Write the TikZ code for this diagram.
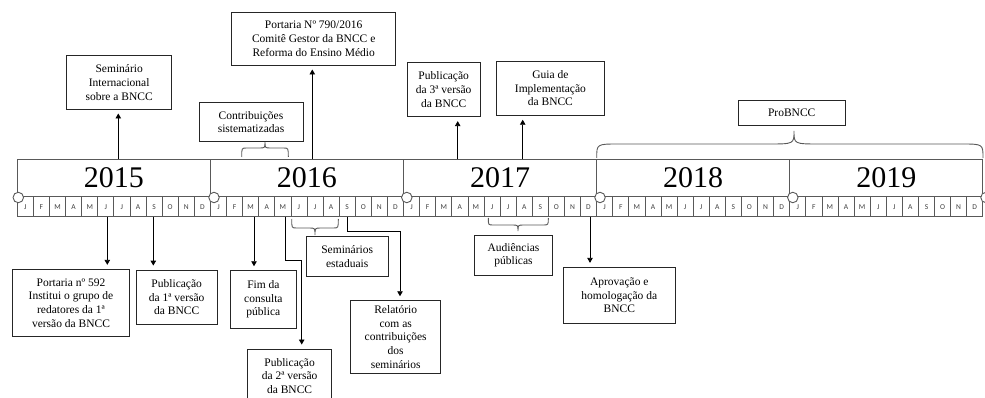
\documentclass[tikz,border=0pt]{standalone}
\usepackage{fontspec}
\setmainfont{Liberation Serif}
\newfontfamily\monthfont{Carlito}
\usetikzlibrary{arrows.meta}
\newcommand\drawbrace[8]{%
  \draw[bracestyle] (#1,#4) .. controls (#1,#5) .. ({#1+#7},#5) -- ({#3-#8},#5)
    .. controls (#3,#5) .. (#3,#6) .. controls (#3,#5) .. ({#3+#8},#5)
    -- ({#2-#7},#5) .. controls (#2,#5) .. (#2,#4);}
\begin{document}
\begin{tikzpicture}[x=1pt,y=-1pt,
  box/.style={draw=black!85, line width=0.9pt, inner sep=0pt, align=center,
    font=\fontsize{11.5}{13.7}\selectfont, fill=white},
  yearbox/.style={draw=black!65, line width=0.9pt, inner sep=0pt,
    minimum width=193.1pt, minimum height=37.4pt, font=\fontsize{30}{30}\selectfont},
  monthcell/.style={draw=black!65, line width=0.7pt, inner sep=0pt,
    minimum width=16.09pt, minimum height=20pt,
    font=\monthfont\fontsize{7.5}{8}\selectfont, text=black!75},
  arr/.style={line width=0.8pt, -{Triangle[width=5.5pt,length=5pt]}, shorten >=4pt},
  ringmark/.style={circle, draw=black!65, line width=0.9pt, fill=white,
    inner sep=0pt, minimum size=10.5pt},
  bracestyle/.style={draw=black!65, line width=0.9pt}
]
\useasboundingbox (0,0) rectangle (985,398);
\fill[white] (0,0) rectangle (985,398);

% timeline
\foreach \yr [count=\i from 0] in {2015,2016,2017,2018,2019} {
  \node[yearbox] (y\yr) at ({17.3+193.1*\i+96.55},178) {\yr};
  \foreach \m [count=\j from 0] in {J,F,M,A,M,J,J,A,S,O,N,D} {
    \node[monthcell] (m\yr-\j) at ({17.3+193.1*\i+16.09*\j+8.045},206.7) {\m};
  }
}
\node[ringmark] (r0) at (18.3,197.5) {};
\node[ringmark] (r1) at (214.0,197.5) {};
\node[ringmark] (r2) at (406.8,197.5) {};
\node[ringmark] (r3) at (600.0,197.5) {};
\node[ringmark] (r4) at (792.8,197.5) {};
\node[ringmark] (r5) at (986.0,197.5) {};

% upper boxes
\node[box, minimum width=105pt, minimum height=53.3pt] (sem) at (119.2,82.4)
  {Seminário\\Internacional\\sobre a BNCC};
\node[box, minimum width=104pt, minimum height=39pt] (contrib) at (251,122.2)
  {Contribuições\\sistematizadas};
\node[box, minimum width=164pt, minimum height=52.7pt] (port790) at (313.7,38.7)
  {Portaria Nº 790/2016\\Comitê Gestor da BNCC e\\Reforma do Ensino Médio};
\node[box, minimum width=72.7pt, minimum height=54.4pt] (pub3) at (443.7,89.5)
  {Publicação\\da 3ª versão\\da BNCC};
\node[box, minimum width=107.3pt, minimum height=54pt] (guia) at (550.4,88.3)
  {Guia de\\Implementação\\da BNCC};
\node[box, minimum width=106.7pt, minimum height=25.3pt] (probncc) at (791.7,112.7)
  {ProBNCC};

% lower boxes
\node[box, minimum width=116.6pt, minimum height=67.4pt] (port592) at (71,303)
  {Portaria nº 592\\Institui o grupo de\\redatores da 1ª\\versão da BNCC};
\node[box, minimum width=81.3pt, minimum height=54.3pt] (pub1) at (176.7,297.2)
  {Publicação\\da 1ª versão\\da BNCC};
\node[box, minimum width=66.7pt, minimum height=57.6pt] (fim) at (263.4,299.5)
  {Fim da\\consulta\\pública};
\node[box, minimum width=84.2pt, minimum height=54pt] (pub2) at (289.6,376)
  {Publicação\\da 2ª versão\\da BNCC};
\node[box, minimum width=82.3pt, minimum height=40.7pt] (semest) at (347.2,256.4)
  {Seminários\\estaduais};
\node[box, minimum width=90pt, minimum height=72.6pt] (relat) at (395.7,337)
  {Relatório\\com as\\contribuições\\dos\\seminários};
\node[box, minimum width=78.4pt, minimum height=40pt] (audi) at (513.5,255.3)
  {Audiências\\públicas};
\node[box, minimum width=112pt, minimum height=56pt] (aprov) at (619.3,295.3)
  {Aprovação e\\homologação da\\BNCC};

% braces
\drawbrace{241.7}{288.3}{265}{157}{148}{142}{5}{6}
\drawbrace{596.7}{983}{794}{158}{144}{131}{22}{26}
\drawbrace{291.7}{338.3}{315}{219}{228}{235}{5}{6}
\drawbrace{488.3}{548.3}{518}{218}{225}{231}{5}{6}

% upward arrows
\coordinate (aSem) at (118.3,159.3);
\coordinate (aP790) at (312.3,159.3);
\coordinate (aPub3) at (457.7,159.3);
\coordinate (aGuia) at (522.7,159.3);
\draw[arr] (aSem) -- (aSem |- sem.south);
\draw[arr] (aP790) -- (aP790 |- port790.south);
\draw[arr] (aPub3) -- (aPub3 |- pub3.south);
\draw[arr] (aGuia) -- (aGuia |- guia.south);

% downward arrows
\coordinate (aP592) at (107.3,216.7);
\coordinate (aPub1) at (153.3,216.7);
\coordinate (aFim) at (254,216.7);
\coordinate (aAprov) at (590,216.7);
\draw[arr] (aP592) -- (aP592 |- port592.north);
\draw[arr] (aPub1) -- (aPub1 |- pub1.north);
\draw[arr] (aFim) -- (aFim |- fim.north);
\draw[arr] (aAprov) -- (aAprov |- aprov.north);
\coordinate (aPub2) at (285,216.7);
\coordinate (bPub2) at (301.7,260.7);
\draw[arr] (aPub2) |- (bPub2) -- (bPub2 |- pub2.north);
\coordinate (aRel) at (347.7,216.7);
\coordinate (bRel) at (400,231.7);
\draw[arr] (aRel) |- (bRel) -- (bRel |- relat.north);
\end{tikzpicture}
\end{document}
